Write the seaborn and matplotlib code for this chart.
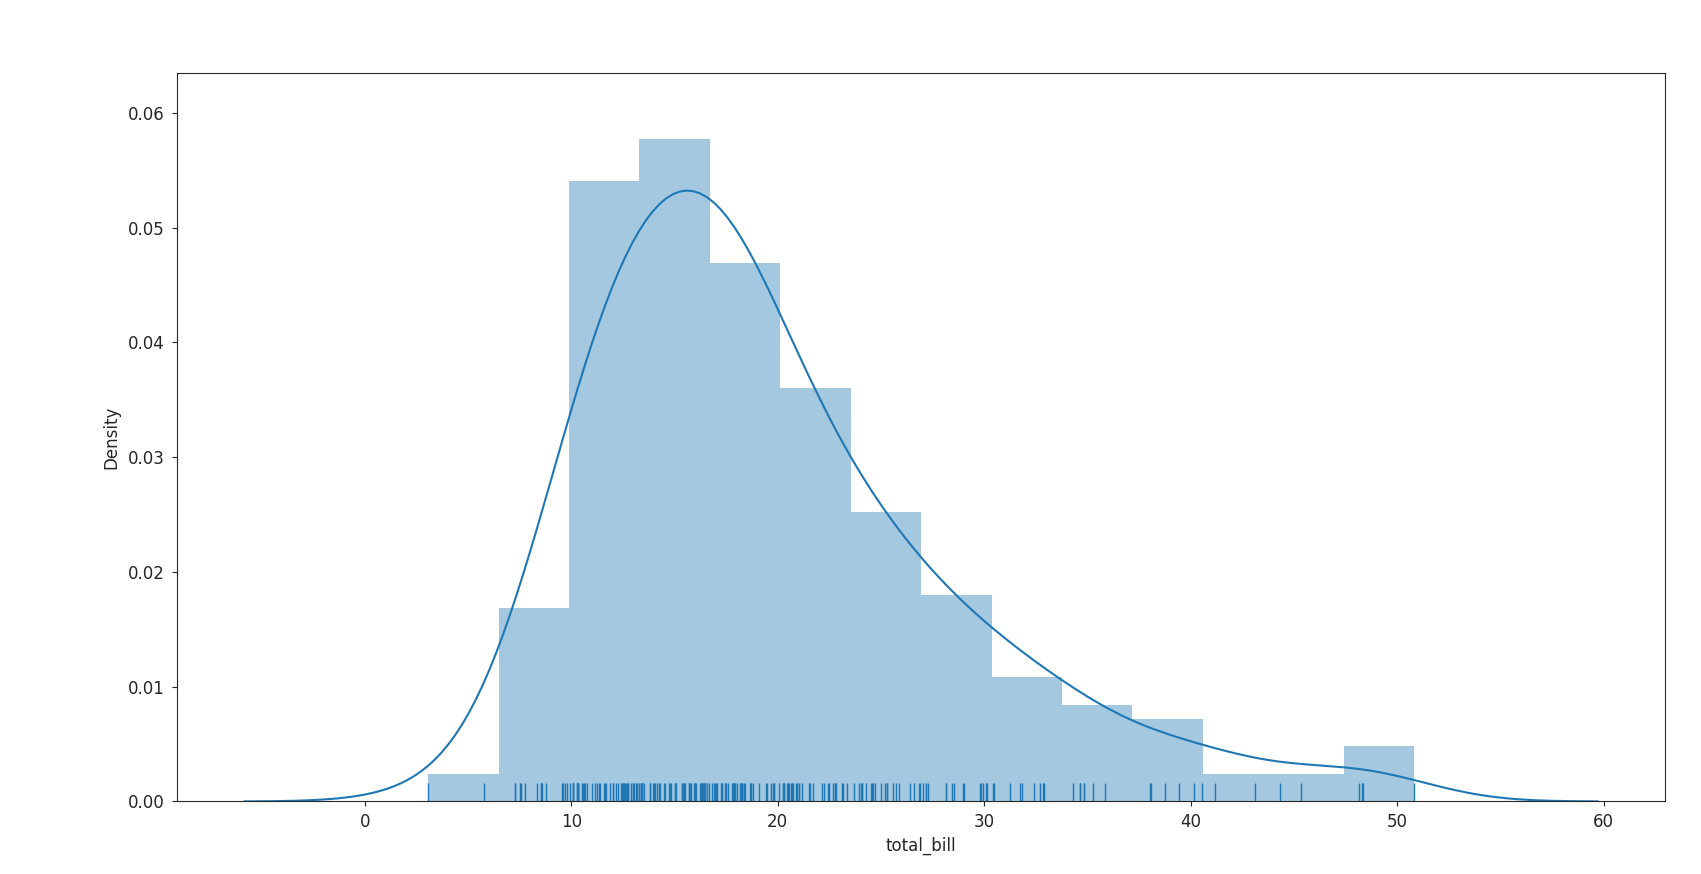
import matplotlib
matplotlib.use("Agg")
import matplotlib.pyplot as plt
import seaborn as sns

# total_bill values (tips data)
total_bill = [
    16.99, 10.34, 21.01, 23.68, 24.59, 25.29, 8.77, 26.88, 15.04, 14.78,
    10.27, 35.26, 15.42, 18.43, 14.83, 21.58, 10.33, 16.29, 16.97, 20.65,
    17.92, 20.29, 15.77, 39.42, 19.82, 17.81, 13.37, 12.69, 21.70, 19.65,
    9.55, 18.35, 15.06, 20.69, 17.78, 24.06, 16.31, 16.93, 18.69, 31.27,
    16.04, 17.46, 13.94, 9.68, 30.40, 18.29, 22.23, 32.40, 28.55, 18.04,
    12.54, 10.29, 34.81, 9.94, 25.56, 19.49, 38.01, 26.41, 11.24, 48.27,
    20.29, 13.81, 11.02, 18.29, 17.59, 20.08, 16.45, 3.07, 20.23, 15.01,
    12.02, 17.07, 26.86, 25.28, 14.73, 10.51, 17.92, 27.20, 22.76, 17.29,
    19.44, 16.66, 10.07, 32.68, 15.98, 34.83, 13.03, 18.28, 24.71, 21.16,
    28.97, 22.49, 5.75, 16.32, 22.75, 40.17, 27.28, 12.03, 21.01, 12.46,
    11.35, 15.38, 44.30, 22.42, 20.92, 15.36, 20.49, 25.21, 18.24, 14.31,
    14.00, 7.25, 38.07, 23.95, 25.71, 17.31, 29.93, 10.65, 12.43, 24.08,
    11.69, 13.42, 14.26, 15.95, 12.48, 29.80, 8.52, 14.52, 11.38, 22.82,
    19.08, 20.27, 11.17, 12.26, 18.26, 8.51, 10.33, 14.15, 16.00, 13.16,
    17.47, 34.30, 41.19, 27.05, 16.43, 8.35, 18.64, 11.87, 9.78, 7.51,
    14.07, 13.13, 17.26, 24.55, 19.77, 29.85, 48.17, 25.00, 13.39, 16.49,
    21.50, 12.66, 16.21, 13.81, 17.51, 24.52, 20.76, 31.71, 10.59, 10.63,
    50.81, 15.81, 7.25, 31.85, 16.82, 32.90, 17.89, 14.48, 9.60, 34.63,
    34.65, 23.33, 45.35, 23.17, 40.55, 20.69, 20.90, 30.46, 18.15, 23.10,
    15.69, 19.81, 28.44, 15.48, 16.58, 7.56, 10.34, 43.11, 13.00, 13.51,
    18.71, 12.74, 13.00, 16.40, 20.53, 16.47, 26.59, 38.73, 24.27, 12.76,
    30.06, 25.89, 48.33, 13.27, 28.17, 12.90, 28.15, 11.59, 7.74, 30.14,
    12.16, 13.42, 8.58, 15.98, 13.42, 16.27, 10.09, 20.45, 13.28, 22.12,
    24.01, 15.69, 11.61, 10.77, 15.53, 10.07, 12.60, 32.83, 35.83, 29.03,
    27.18, 22.67, 17.82, 18.78,
]
n_bins = 14

plt.rcParams.update({
    "xtick.labelsize": 12,
    "ytick.labelsize": 12,
    "axes.labelsize": 12,
    "xtick.major.pad": 5,
    "ytick.major.pad": 5,
    "text.color": ".15",
    "axes.labelcolor": ".15",
    "xtick.color": ".15",
    "ytick.color": ".15",
    "axes.edgecolor": ".15",
})

fig, ax = plt.subplots(figsize=(17.01, 8.74), dpi=100)
fig.subplots_adjust(left=0.104, right=0.979, top=0.917, bottom=0.083)

sns.histplot(x=total_bill, bins=n_bins, stat="density", color="C0",
             alpha=0.4, linewidth=0, ax=ax)
sns.kdeplot(x=total_bill, color="C0", linewidth=1.5, ax=ax)
sns.rugplot(x=total_bill, color="C0", height=0.025, ax=ax)

ax.set_xlabel("total_bill", labelpad=4)
ax.set_ylabel("Density", labelpad=5.5)
ax.set_ylim(0, 0.0635)

fig.savefig("out.png", dpi=100)
